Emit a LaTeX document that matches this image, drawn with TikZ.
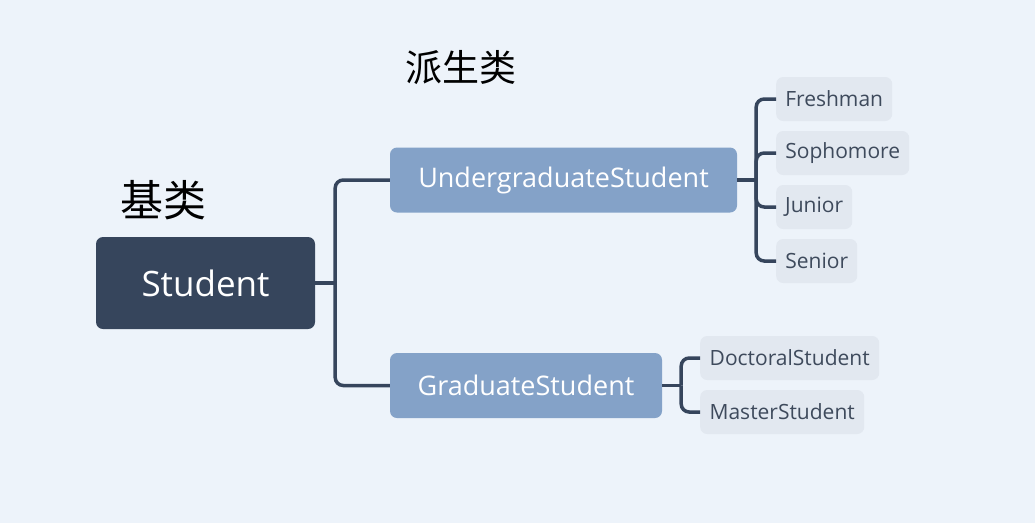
\documentclass[tikz,border=0pt]{standalone}
\usepackage{fontspec}
\setmainfont{Open Sans}
\newfontfamily\cjk{Noto Sans CJK SC}
\definecolor{bgblue}{HTML}{EDF3FA}
\definecolor{rootfill}{HTML}{36455C}
\definecolor{subfill}{HTML}{84A2C8}
\definecolor{leaffill}{HTML}{E2E8F0}
\definecolor{leaftext}{HTML}{3E4A5C}

\begin{document}
\begin{tikzpicture}
  [x=1pt, y=-1pt,
   conn/.style={draw=rootfill, line width=3.5pt, rounded corners=8pt},
   rootnode/.style={rectangle, rounded corners=7pt, fill=rootfill,
                    text=white, font=\fontsize{35}{40}\selectfont,
                    minimum width=219pt, minimum height=92pt},
   subnode/.style={rectangle, rounded corners=7pt, fill=subfill,
                   text=white, font=\fontsize{27}{32}\selectfont,
                   minimum height=65pt},
   leafnode/.style={rectangle, rounded corners=7pt, fill=leaffill,
                    text=leaftext, font=\fontsize{21}{25}\selectfont,
                    minimum height=44pt, inner xsep=8pt, anchor=west},
   tag/.style={font=\cjk\fontsize{43}{48}\selectfont, text=black}]
  \useasboundingbox[fill=bgblue] (0,0) rectangle (1035,523);

  \node[tag] (base)    at (163,200) {基类};
  \node[tag, font=\cjk\fontsize{37}{42}\selectfont] (derived) at (461,68) {派生类};

  \node[rootnode] (stu)   at (205.5,283)                          {Student};
  \node[subnode, minimum width=347pt] (ugrad) at (563.5,180)      {UndergraduateStudent};
  \node[subnode, minimum width=272pt] (grad)  at (526,385.5)      {GraduateStudent};

  \node[leafnode, minimum width=116pt] (fresh)  at (776,99)  {Freshman};
  \node[leafnode, minimum width=133pt] (soph)   at (776,153) {Sophomore};
  \node[leafnode, minimum width=76pt]  (junior) at (776,207) {Junior};
  \node[leafnode, minimum width=81pt]  (senior) at (776,261) {Senior};
  \node[leafnode, minimum width=179pt] (doct)   at (700,358) {DoctoralStudent};
  \node[leafnode, minimum width=164pt] (master) at (700,412) {MasterStudent};

  % branches
  \draw[conn] (stu.east) -- ++(20,0) coordinate (j-stu);
  \draw[conn] (j-stu) |- (ugrad.west);
  \draw[conn] (j-stu) |- (grad.west);

  \draw[conn] (ugrad.east) -- ++(19,0) coordinate (j-ug);
  \foreach \n in {fresh,soph,junior,senior}
    \draw[conn] (j-ug) |- (\n.west);

  \draw[conn] (grad.east) -- ++(19,0) coordinate (j-gr);
  \foreach \n in {doct,master}
    \draw[conn] (j-gr) |- (\n.west);
\end{tikzpicture}
\end{document}
